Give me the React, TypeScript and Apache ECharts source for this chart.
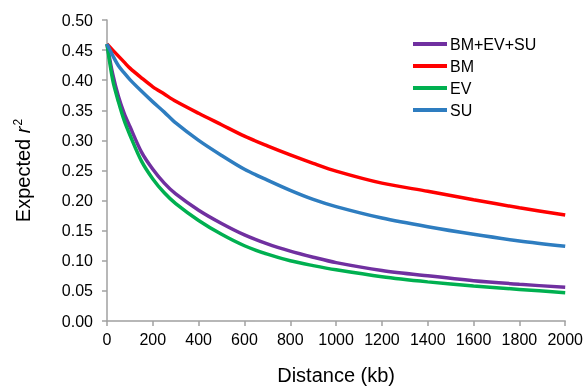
import React, { useEffect, useRef } from "react";
import * as echarts from "echarts";

const distances = [0, 25, 50, 75, 100, 150, 200, 250, 300, 400, 500, 600, 700, 800, 900, 1000, 1200, 1400, 1600, 1800, 2000];
const allValues = [0.46, 0.41, 0.373, 0.345, 0.323, 0.281, 0.252, 0.229, 0.211, 0.184, 0.162, 0.143, 0.128, 0.116, 0.106, 0.097, 0.084, 0.075, 0.067, 0.061, 0.056];
const bmValues = [0.46, 0.45, 0.44, 0.43, 0.42, 0.404, 0.389, 0.377, 0.365, 0.345, 0.326, 0.307, 0.291, 0.276, 0.262, 0.249, 0.229, 0.2155, 0.2015, 0.188, 0.176];
const evValues = [0.46, 0.4, 0.364, 0.333, 0.309, 0.266, 0.236, 0.213, 0.195, 0.167, 0.144, 0.125, 0.111, 0.1, 0.092, 0.085, 0.0735, 0.065, 0.058, 0.0525, 0.047];
const suValues = [0.46, 0.441, 0.424, 0.412, 0.401, 0.382, 0.364, 0.347, 0.329, 0.3, 0.275, 0.252, 0.234, 0.217, 0.202, 0.19, 0.171, 0.1565, 0.144, 0.133, 0.124];

const seriesNames = ["BM+EV+SU", "BM", "EV", "SU"];
const seriesColors = ["#7030a0", "#ff0000", "#00b050", "#2e7dc0"];
const seriesValues = [allValues, bmValues, evValues, suValues];

const FONT = "'Liberation Sans', Arial, sans-serif";

export default function App() {
  const ref = useRef<HTMLDivElement>(null);
  useEffect(() => {
    if (!ref.current) return;
    const chart = echarts.init(ref.current, null, { renderer: "svg" });
    chart.setOption({
      animation: false,
      textStyle: { fontFamily: FONT },
      grid: { left: 107, right: 19, top: 20, bottom: 68, containLabel: false },
      legend: {
        orient: "vertical",
        left: 413,
        top: 36,
        padding: 0,
        icon: "rect",
        itemWidth: 34,
        itemHeight: 4,
        itemGap: 6,
        textStyle: { fontFamily: FONT, fontSize: 16, color: "#000", padding: [0, 0, 0, -2] },
        data: seriesNames,
      },
      xAxis: {
        type: "value",
        min: 0,
        max: 2000,
        interval: 200,
        name: "Distance (kb)",
        nameLocation: "middle",
        nameGap: 44,
        nameTextStyle: { fontFamily: FONT, fontSize: 20, color: "#000" },
        axisLine: { show: true, lineStyle: { color: "#a0a0a0", width: 1.5 } },
        axisTick: { show: true, length: 5, lineStyle: { color: "#a0a0a0", width: 1.5 } },
        axisLabel: { fontFamily: FONT, fontSize: 16, color: "#000", margin: 10, formatter: (v: number) => String(v) },
        splitLine: { show: false },
      },
      yAxis: {
        type: "value",
        min: 0,
        max: 0.5,
        interval: 0.05,
        name: "Expected {i|r}{sup|2}",
        nameLocation: "middle",
        nameGap: 74,
        nameRotate: 90,
        nameTextStyle: {
          fontFamily: FONT,
          fontSize: 20,
          color: "#000",
          rich: {
            i: { fontFamily: FONT, fontSize: 20, fontStyle: "italic", color: "#000" },
            sup: { fontFamily: FONT, fontSize: 12, color: "#000", verticalAlign: "top", padding: [0, 0, 9, 1] },
          },
        },
        axisLine: { show: true, lineStyle: { color: "#a0a0a0", width: 1.5 } },
        axisTick: { show: true, length: 5, lineStyle: { color: "#a0a0a0", width: 1.5 } },
        axisLabel: {
          fontFamily: FONT,
          fontSize: 16,
          color: "#000",
          margin: 14,
          formatter: (v: number) => v.toFixed(2),
        },
        splitLine: { show: false },
      },
      series: seriesNames.map((name, i) => ({
        name,
        type: "line",
        smooth: 0.3,
        symbol: "none",
        color: seriesColors[i],
        lineStyle: { color: seriesColors[i], width: 3.5 },
        data: distances.map((d, j) => [d, seriesValues[i][j]]),
      })),
    });
    return () => chart.dispose();
  }, []);
  return <div ref={ref} style={{ position: "fixed", left: 0, top: 0, width: 586, height: 390 }} />;
}
